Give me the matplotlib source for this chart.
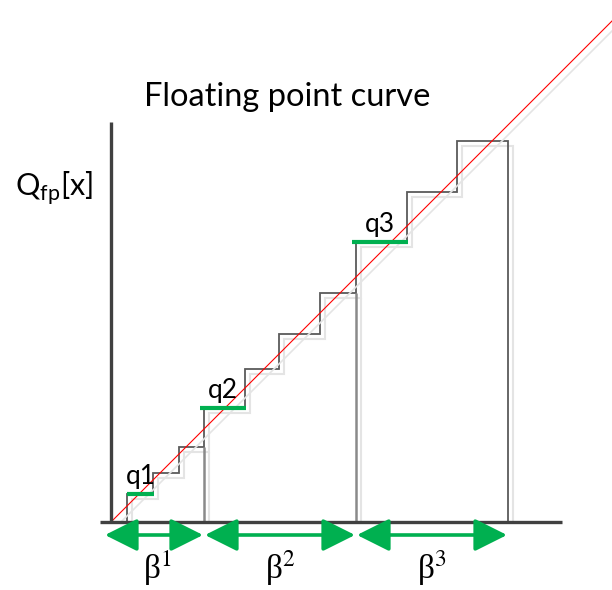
import numpy as np
import matplotlib
matplotlib.use('Agg')
import matplotlib.pyplot as plt

# staircase of the floating point quantizer (x where the output jumps, and the level after it)
jump_x = [16, 42, 68, 93, 134, 168, 209, 245, 296, 346]
levels = [28, 49, 75, 114, 153, 188, 229, 280, 330, 381]
end_x = 397

# exponent ranges beta^1..beta^3 along the input axis
beta_edges = [0, 93, 245, 397]
beta_names = ['1', '2', '3']

# first level of every range, marked in green
q_index = [0, 3, 7]
q_names = ['q1', 'q2', 'q3']

ideal_x = np.array([0, 520])

green = '#00b050'
dark = '#5a5a5a'
shadow = '#e4e4e4'

fig = plt.figure(figsize=(6.12, 5.9), dpi=100)
ax = fig.add_axes([0, 0, 1, 1])
ax.set_xlim(-111, 501)
ax.set_ylim(-68, 522)
ax.axis('off')

edges = jump_x + [end_x]
# soft offset copy behind the staircase
ax.stairs(np.array(levels) - 5, np.array(edges) + 5, baseline=0, color=shadow, lw=1.5)
ax.plot(ideal_x + 10, ideal_x, color=shadow, lw=1.2)

ax.stairs(levels, edges, baseline=0, color=dark, lw=1.3)
# drop lines at the range boundaries
inner = beta_edges[1:-1]
low = [levels[jump_x.index(b) - 1] for b in inner]
ax.vlines(np.array(inner) + 5, 0, np.array(low) - 5, color=shadow, lw=1.5)
ax.vlines(inner, 0, low, color='#8a8a8a', lw=1.8)

# ideal curve
ax.plot(ideal_x, ideal_x, color='red', lw=0.8)

# axes
ax.plot([0, 0], [0, 400], color='#404040', lw=2.4, solid_capstyle='butt')
ax.plot([-11, 451], [0, 0], color='#404040', lw=2.4, solid_capstyle='butt')

# green quantization levels with labels
for i, name in zip(q_index, q_names):
    x0 = jump_x[i] - (0 if i == 0 else 4)
    x1 = edges[i + 1] + 1
    ax.plot([x0, x1], [levels[i], levels[i]], color=green, lw=3, solid_capstyle='butt')
    ax.text((x0 + x1) / 2, levels[i] + 5, name, ha='center', va='bottom',
            fontsize=19, family='Lato')

# double arrows for the exponent ranges
for k in range(3):
    a = beta_edges[k] + (1 if k else -6)
    b = beta_edges[k + 1] - 1
    ax.annotate('', xy=(b, -13), xytext=(a, -13),
                arrowprops=dict(arrowstyle='<|-|>,head_length=1.0,head_width=0.5',
                                mutation_scale=20, lw=2.6, color=green,
                                shrinkA=0, shrinkB=0))
    ax.text((beta_edges[k] + beta_edges[k + 1]) / 2, -46,
            'β$^{' + beta_names[k] + '}$', ha='center', va='center',
            fontsize=24, family='Liberation Serif', math_fontfamily='stix')

ax.text(0.47, 0.835, 'Floating point curve', transform=ax.transAxes,
        ha='center', va='center', fontsize=23.5, family='Lato')
ax.text(0.025, 0.681, r'Q$_{\mathregular{fp}}$[x]', transform=ax.transAxes,
        ha='left', va='center', fontsize=22, family='Lato')

fig.savefig('out.png', dpi=100)
